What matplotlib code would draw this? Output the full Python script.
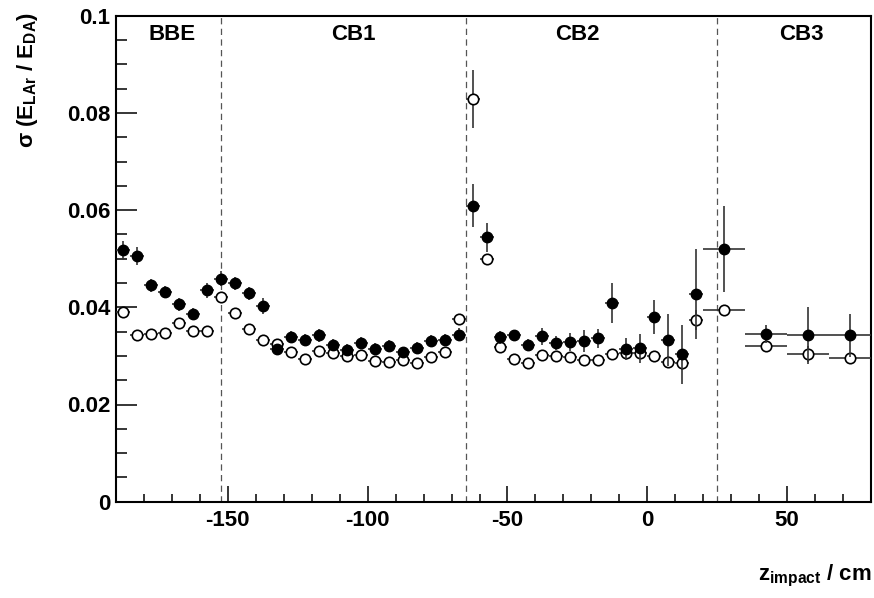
import matplotlib
matplotlib.use("Agg")
import matplotlib.pyplot as plt
from matplotlib.ticker import MultipleLocator, FixedLocator, FixedFormatter
import numpy as np

plt.rcParams['font.family'] = ['Liberation Sans', 'DejaVu Sans']
plt.rcParams['font.weight'] = 'bold'
plt.rcParams['axes.unicode_minus'] = False

# ---- data ----
z_narrow = [-187.5, -182.5, -177.5, -172.5, -167.5, -162.5, -157.5,
            -152.5, -147.5, -142.5, -137.5, -132.5, -127.5, -122.5, -117.5,
            -112.5, -107.5, -102.5, -97.5, -92.5, -87.5, -82.5, -77.5, -72.5, -67.5,
            -62.5, -57.5,
            -52.5, -47.5, -42.5, -37.5, -32.5, -27.5, -22.5, -17.5, -12.5,
            -7.5, -2.5, 2.5, 7.5, 12.5, 17.5]
z_wide = [27.5, 42.5, 57.5, 72.5]

filled_narrow = [0.0517, 0.0506, 0.0445, 0.0431, 0.0406, 0.0387, 0.0435,
                 0.0459, 0.0449, 0.0429, 0.0403, 0.0315, 0.0339, 0.0333, 0.0342,
                 0.0322, 0.0313, 0.0326, 0.0314, 0.0320, 0.0307, 0.0316, 0.0331, 0.0333, 0.0344,
                 0.0609, 0.0544,
                 0.0338, 0.0342, 0.0322, 0.0340, 0.0326, 0.0329, 0.0330, 0.0336, 0.0408,
                 0.0314, 0.0316, 0.0381, 0.0333, 0.0303, 0.0427]
filled_narrow_err = [0.0020, 0.0018, 0.0014, 0.0012, 0.0013, 0.0012, 0.0015,
                     0.0015, 0.0014, 0.0013, 0.0017, 0.0010, 0.0012, 0.0012, 0.0014,
                     0.0012, 0.0011, 0.0012, 0.0012, 0.0012, 0.0011, 0.0012, 0.0012, 0.0012, 0.0014,
                     0.0044, 0.0030,
                     0.0014, 0.0012, 0.0012, 0.0018, 0.0014, 0.0019, 0.0023, 0.0019, 0.0041,
                     0.0023, 0.0030, 0.0035, 0.0054, 0.0060, 0.0093]
filled_wide = [0.0520, 0.0345, 0.0342, 0.0342]
filled_wide_err = [0.0089, 0.0018, 0.0058, 0.0044]

open_narrow = [0.0390, 0.0342, 0.0345, 0.0347, 0.0368, 0.0352, 0.0351,
               0.0421, 0.0389, 0.0355, 0.0332, 0.0325, 0.0309, 0.0293, 0.0311,
               0.0306, 0.0300, 0.0302, 0.0290, 0.0288, 0.0292, 0.0285, 0.0298, 0.0307, 0.0376,
               0.0829, 0.0499,
               0.0318, 0.0293, 0.0286, 0.0302, 0.0300, 0.0298, 0.0292, 0.0292, 0.0303,
               0.0305, 0.0305, 0.0300, 0.0288, 0.0285, 0.0374]
open_narrow_err = [0.0008] * 25 + [0.0060, 0.0010] + [0.0008] * 11 + [0.0010, 0.0012, 0.0015, 0.0020]
open_wide = [0.0394, 0.0321, 0.0304, 0.0295]
open_wide_err = [0.0008, 0.0013, 0.0017, 0.0010]

narrow_halfwidth = 2.5
wide_halfwidth = 7.5

boundaries = [-152.5, -65.0, 25.0]
regions = ["BBE", "CB1", "CB2", "CB3"]
region_x = [-170.0, -105.0, -25.0, 55.0]

xticks_major = [-150, -100, -50, 0, 50]
yticks_major = [0, 0.02, 0.04, 0.06, 0.08, 0.1]
ytick_labels = ["0", "0.02", "0.04", "0.06", "0.08", "0.1"]

# ---- figure ----
fig = plt.figure(figsize=(8.74, 5.98), dpi=100)
ax = fig.add_axes([116/874, (598-501.7)/598, (871-116)/874, (501.7-15.7)/598])

ecol = '#333333'
ms = 7.5

for z, vals, errs, hw in [(z_narrow, open_narrow, open_narrow_err, narrow_halfwidth),
                          (z_wide, open_wide, open_wide_err, wide_halfwidth)]:
    ax.errorbar(z, vals, yerr=errs, xerr=hw, fmt='o', ms=ms, mfc='white', mec='black',
                mew=1.2, ecolor=ecol, elinewidth=1.2, capsize=0, zorder=3)

for z, vals, errs, hw in [(z_narrow, filled_narrow, filled_narrow_err, narrow_halfwidth),
                          (z_wide, filled_wide, filled_wide_err, wide_halfwidth)]:
    ax.errorbar(z, vals, yerr=errs, xerr=hw, fmt='o', ms=ms, mfc='black', mec='black',
                mew=1.0, ecolor=ecol, elinewidth=1.2, capsize=0, zorder=4)

for b in boundaries:
    ax.axvline(b, color='#555555', lw=0.9, ls=(0, (5, 3.5)), zorder=1)

for name, xr in zip(regions, region_x):
    ax.text(xr, 0.0961, name, ha='center', va='center', fontsize=16, fontweight='bold')

ax.set_xlim(-190, 80)
ax.set_ylim(0, 0.1)

ax.xaxis.set_major_locator(FixedLocator(xticks_major))
ax.xaxis.set_minor_locator(MultipleLocator(10))
ax.yaxis.set_major_locator(FixedLocator(yticks_major))
ax.yaxis.set_major_formatter(FixedFormatter(ytick_labels))
ax.yaxis.set_minor_locator(MultipleLocator(0.005))

ax.tick_params(axis='x', which='major', direction='in', length=11.5, width=1.1,
               labelsize=16, pad=6, top=False)
ax.tick_params(axis='x', which='minor', direction='in', length=5.8, width=1.1, top=False)
ax.tick_params(axis='y', which='major', direction='in', length=15, width=1.1,
               labelsize=16, pad=4, right=False)
ax.tick_params(axis='y', which='minor', direction='in', length=8, width=1.1, right=False)
for lab in ax.get_xticklabels() + ax.get_yticklabels():
    lab.set_fontweight('bold')

for sp in ax.spines.values():
    sp.set_linewidth(1.5)

fig.text(27/874, 1 - 12/598, r'σ (E$_{\mathregular{LAr}}$ / E$_{\mathregular{DA}}$)',
         rotation=90, ha='center', va='top', fontsize=16, fontweight='bold')
fig.text(871/874, 1 - 580/598, r'z$_{\mathregular{impact}}$ / cm',
         ha='right', va='baseline', fontsize=16, fontweight='bold')

fig.savefig('out.png', dpi=100)
